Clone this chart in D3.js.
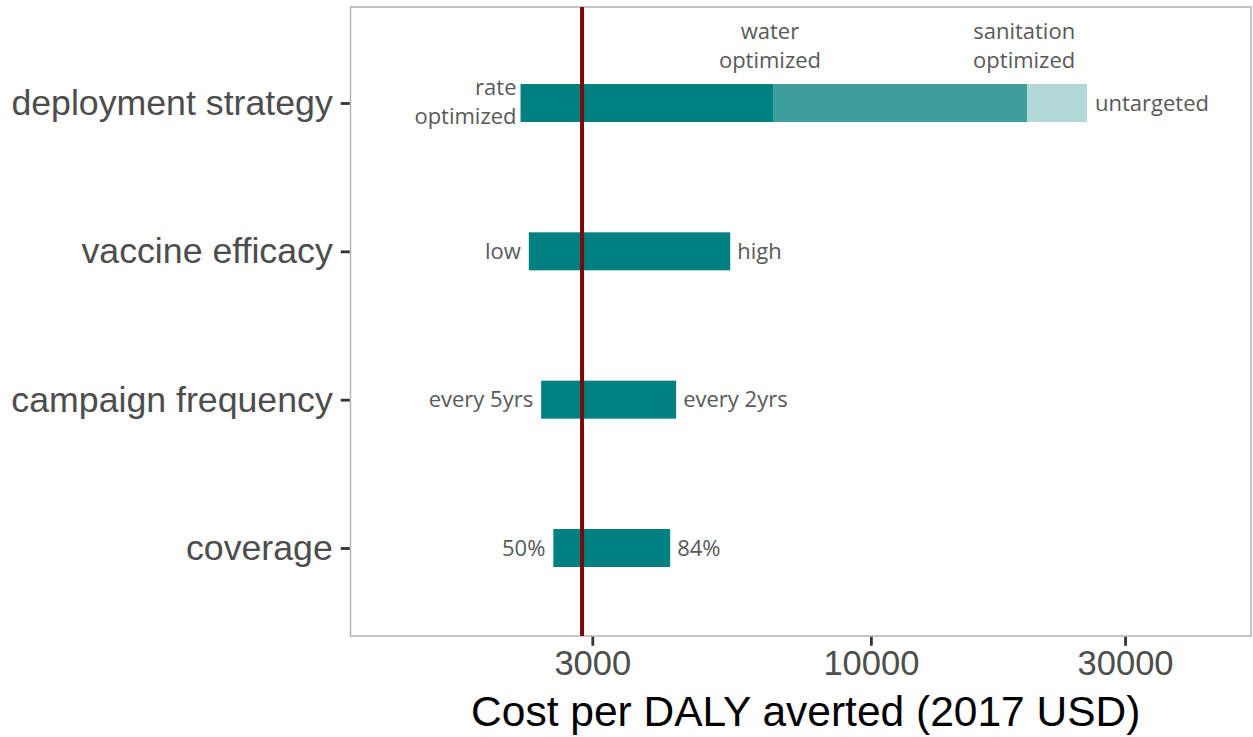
<!DOCTYPE html>
<html>
<head>
<meta charset="utf-8">
<script src="https://cdn.jsdelivr.net/npm/d3@7"></script>
<style>
  html, body { margin: 0; padding: 0; background: #fff; }
  svg { display: block; }
</style>
</head>
<body>
<svg id="chart" width="1253" height="737"></svg>
<script>
// One-way sensitivity of cost per DALY averted (2017 USD), log scale
const categories = ["deployment strategy", "vaccine efficacy", "campaign frequency", "coverage"];

// Low / high bounds for the simple parameters
const lowValues  = [null, 2280, 2405, 2535];
const highValues = [null, 5445, 4310, 4200];
const lowLabels  = [null, "low", "every 5yrs", "50%"];
const highLabels = [null, "high", "every 2yrs", "84%"];

// Deployment strategy scenarios, cheapest first
const strategyNames  = ["rate\noptimized", "water\noptimized", "sanitation\noptimized", "untargeted"];
const strategyValues = [2200, 6550, 19650, 25450];
const strategyColors = ["#008080", "#3f9f9c", "#b2d8d8"];

const baseCase = 2870;
const xTicks = [3000, 10000, 30000];

const svg = d3.select("#chart");
const panel = { left: 350.5, right: 1251, top: 7, bottom: 636 };

const x = d3.scaleLog()
  .domain([1055, 51700])
  .range([panel.left, panel.right]);

const y = d3.scalePoint()
  .domain(categories)
  .range([103, 548]);

const barH = 38;
const labelColor = "#595959";
const annFont = "'Open Sans', 'Noto Sans', sans-serif";

// panel background and border
svg.append("rect")
  .attr("x", panel.left).attr("y", panel.top)
  .attr("width", panel.right - panel.left).attr("height", panel.bottom - panel.top)
  .attr("fill", "#fff").attr("stroke", "#b3b3b3").attr("stroke-width", 1.5);

// x axis
const xAxis = d3.axisBottom(x)
  .tickValues(xTicks)
  .tickFormat(d3.format("d"))
  .tickSize(9)
  .tickPadding(5);
const gx = svg.append("g")
  .attr("transform", `translate(0,${panel.bottom + 0.75})`)
  .call(xAxis);
gx.select(".domain").remove();
gx.selectAll(".tick line").attr("stroke", "#333").attr("stroke-width", 2.8);
gx.selectAll(".tick text")
  .attr("fill", "#4d4d4d")
  .attr("font-family", "'Liberation Sans', Arial, sans-serif")
  .attr("font-size", 34.5)
  .attr("dy", "0.71em");

// y axis
const yAxis = d3.axisLeft(y).tickSize(9).tickPadding(8);
const gy = svg.append("g")
  .attr("transform", `translate(${panel.left - 0.75},0)`)
  .call(yAxis);
gy.select(".domain").remove();
gy.selectAll(".tick line").attr("stroke", "#333").attr("stroke-width", 2.8);
gy.selectAll(".tick text")
  .attr("fill", "#4d4d4d")
  .attr("font-family", "'Liberation Sans', Arial, sans-serif")
  .attr("font-size", 35.7);

// axis title
svg.append("text")
  .attr("x", (panel.left + panel.right) / 2 + 5)
  .attr("y", 726)
  .attr("text-anchor", "middle")
  .attr("font-family", "'Liberation Sans', Arial, sans-serif")
  .attr("font-size", 42.5)
  .attr("fill", "#000")
  .text("Cost per DALY averted (2017 USD)");

// deployment strategy stacked segments
const segs = d3.range(strategyValues.length - 1).map(i => ({
  x0: strategyValues[i], x1: strategyValues[i + 1], color: strategyColors[i]
}));
const yd = y(categories[0]);
svg.append("g").selectAll("rect").data(segs).join("rect")
  .attr("x", d => x(d.x0))
  .attr("width", d => x(d.x1) - x(d.x0))
  .attr("y", yd - barH / 2)
  .attr("height", barH)
  .attr("fill", d => d.color);

// simple parameter bars
const simple = categories.map((c, i) => ({ c, lo: lowValues[i], hi: highValues[i], ll: lowLabels[i], hl: highLabels[i] }))
  .filter(d => d.lo != null);
svg.append("g").selectAll("rect").data(simple).join("rect")
  .attr("x", d => x(d.lo))
  .attr("width", d => x(d.hi) - x(d.lo))
  .attr("y", d => y(d.c) - barH / 2)
  .attr("height", barH)
  .attr("fill", "#008080");

// low / high labels
const ann = svg.append("g")
  .attr("font-family", annFont)
  .attr("font-size", 22)
  .attr("fill", labelColor);
ann.selectAll("text.lo").data(simple).join("text")
  .attr("class", "lo")
  .attr("x", d => x(d.lo) - 8)
  .attr("y", d => y(d.c))
  .attr("dy", "0.35em")
  .attr("text-anchor", "end")
  .text(d => d.ll);
ann.selectAll("text.hi").data(simple).join("text")
  .attr("class", "hi")
  .attr("x", d => x(d.hi) + 7)
  .attr("y", d => y(d.c))
  .attr("dy", "0.35em")
  .attr("text-anchor", "start")
  .text(d => d.hl);

// strategy labels
const lineH = 29;
function multiline(sel, lines, cx, cy, anchor) {
  const t = sel.append("text").attr("text-anchor", anchor);
  const n = lines.length;
  lines.forEach((ln, k) => {
    t.append("tspan")
      .attr("x", cx)
      .attr("y", cy + (k - (n - 1) / 2) * lineH)
      .attr("dy", "0.35em")
      .text(ln);
  });
}
// cheapest strategy, left of the bar
multiline(ann, strategyNames[0].split("\n"), x(strategyValues[0]) - 4, yd - 1, "end");
// intermediate strategies, above the segment ends
[1, 2].forEach(i => {
  multiline(ann, strategyNames[i].split("\n"), x(strategyValues[i]) - 3, 46, "middle");
});
// most expensive, right of the bar
multiline(ann, strategyNames[3].split("\n"), x(strategyValues[3]) + 8, yd, "start");

// base case line
svg.append("line")
  .attr("x1", x(baseCase)).attr("x2", x(baseCase))
  .attr("y1", panel.top).attr("y2", panel.bottom)
  .attr("stroke", "#7a0a0a")
  .attr("stroke-width", 4);
</script>
</body>
</html>
